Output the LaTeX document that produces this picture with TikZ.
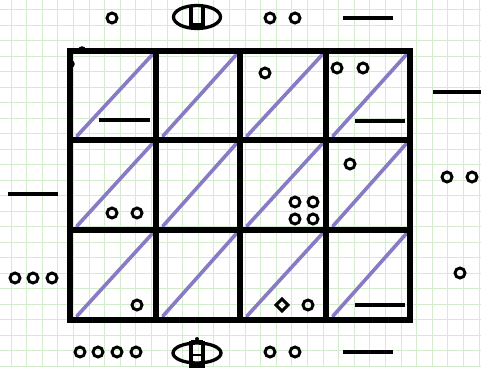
\documentclass[tikz,border=0pt]{standalone}
\definecolor{gridc}{RGB}{212,236,206}
\definecolor{diagc}{RGB}{136,122,196}
\begin{document}
\begin{tikzpicture}[x=1pt,y=-1pt,
  frameline/.style={line width=5.8pt, line cap=rect, line join=miter},
  diag/.style={line width=3.6pt, draw=diagc, line cap=round},
  ring/.style={line width=2.9pt, draw=black},
  bar/.style={line width=4.2pt, line cap=butt},
  bggrid/.style={draw=gridc, line width=1pt},
  sym/.style={line width=3.3pt, draw=black}]
\fill[white] (0,0) rectangle (481,367);
\useasboundingbox (0,0) rectangle (481,367);
% background grid paper
\foreach \k in {0,...,30} {\draw[bggrid] ({11+15.6*\k},0) -- ++(0,367);}
\foreach \k in {0,...,23} {\draw[bggrid] (0,{9.5+15.5*\k}) -- ++(481,0);}
% diagonals in each cell
\foreach \xa/\xb in {70/156,156/240,240/326,326/410} {
  \foreach \ya/\yb in {51/140,140/230,230/320} {
    \draw[diag] ({\xa+7},{\yb-4}) -- ({\xb-4},{\ya+4});
  }
}
% frame
\foreach \x in {156,240,326} {\draw[frameline] (\x,51) -- (\x,320);}
\foreach \y in {140,230} {\draw[frameline] (70,\y) -- (410,\y);}
\draw[frameline] (70,51) rectangle (410,320);
\fill (82,50) circle (3.8);
\fill (71,64) circle (3.8);
% top clues
\draw[ring] (112,18) circle (5);
\draw[sym] (197,17) ellipse (23.5 and 11.5);
\draw[sym] (191,6) -- (191,25) -- (203,25) -- (203,6);
\draw[line width=1pt] (191,6) -- (203,6);
\draw[ring] (270,18) circle (5);
\draw[ring] (295,18) circle (5);
\draw[bar] (343,18) -- (393,18);
% bottom clues
\foreach \x in {80,98,117,136} {\draw[ring] (\x,352) circle (5);}
\draw[sym] (197,353) ellipse (24 and 10);
\draw[sym] (191,341) -- (191,366) -- (203,366) -- (203,341);
\draw[line width=1.2pt] (191,341) -- (203,341);
\draw[line width=1.6pt] (191,355) -- (203,355);
\fill (197,339) circle (2);
\draw[ring] (270,352) circle (5);
\draw[ring] (295,352) circle (5);
\draw[bar] (343,352) -- (393,352);
% left clues
\draw[bar] (8,194) -- (58,194);
\foreach \x in {15,33,52} {\draw[ring] (\x,278) circle (5);}
% right clues
\draw[bar] (433,92) -- (481,92);
\draw[ring] (447,177) circle (5);
\draw[ring] (472,177) circle (5);
\draw[ring] (460,273) circle (5);
% cell contents
\draw[bar] (99,120) -- (150,120);
\draw[ring] (265,73) circle (5);
\draw[ring] (337,68) circle (5);
\draw[ring] (363,68) circle (5);
\draw[bar] (355,121) -- (405,121);
\draw[ring] (112,213) circle (5);
\draw[ring] (137,213) circle (5);
\draw[ring] (295,202) circle (5);
\draw[ring] (313,202) circle (5);
\draw[ring] (295,219) circle (5);
\draw[ring] (313,219) circle (5);
\draw[ring] (350,164) circle (5);
\draw[ring] (137,305) circle (5);
\draw[ring] (282,299) -- (288,305) -- (282,311) -- (276,305) -- cycle;
\draw[ring] (308,305) circle (5);
\draw[bar] (355,305) -- (405,305);
\end{tikzpicture}
\end{document}
